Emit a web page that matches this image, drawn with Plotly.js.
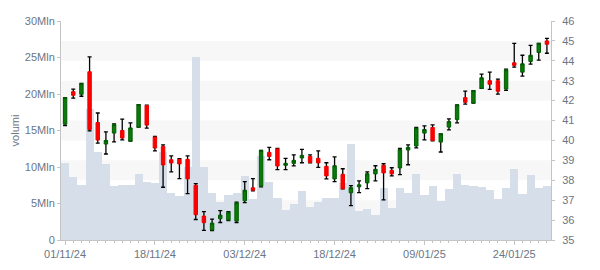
<!DOCTYPE html>
<html>
<head>
<meta charset="utf-8">
<script src="https://cdn.plot.ly/plotly-3.0.1.min.js"></script>
<style>html,body{margin:0;padding:0;background:#fff;}#chart{width:600px;height:270px;}</style>
</head>
<body>
<div id="chart"></div>
<script>
// Trading days (categories)
const dates = [
  '01/11/24','04/11/24','05/11/24','06/11/24','07/11/24','08/11/24','11/11/24','12/11/24','13/11/24','14/11/24',
  '15/11/24','18/11/24','19/11/24','20/11/24','21/11/24','22/11/24','25/11/24','26/11/24','27/11/24','28/11/24',
  '29/11/24','02/12/24','03/12/24','04/12/24','05/12/24','06/12/24','09/12/24','10/12/24','11/12/24','12/12/24',
  '13/12/24','16/12/24','17/12/24','18/12/24','19/12/24','20/12/24','23/12/24','27/12/24','30/12/24','02/01/25',
  '03/01/25','06/01/25','07/01/25','08/01/25','09/01/25','10/01/25','13/01/25','14/01/25','15/01/25','16/01/25',
  '17/01/25','20/01/25','21/01/25','22/01/25','23/01/25','24/01/25','27/01/25','28/01/25','29/01/25','30/01/25'
];
const openP = [
  40.82,42.45,42.32,43.45,40.90,39.82,40.37,40.50,39.97,40.67,
  41.75,40.17,39.70,39.03,39.05,39.05,37.75,36.20,35.50,36.07,
  36.00,35.95,36.97,37.62,37.70,39.40,39.57,38.75,38.85,39.12,
  39.20,39.10,38.70,38.07,38.30,37.37,37.67,37.87,38.32,38.75,
  38.50,38.62,39.52,39.72,40.37,40.65,39.92,40.67,41.05,42.15,
  41.88,42.62,43.00,43.00,42.58,43.90,43.43,43.97,44.42,45.00
];
const highP = [
  42.15,42.58,42.87,44.20,41.38,40.43,40.83,41.07,40.88,41.80,
  41.77,40.20,39.78,39.23,39.08,39.23,37.83,36.43,36.05,36.48,
  36.43,36.90,37.93,38.08,39.50,39.65,39.60,39.10,39.28,39.55,
  39.28,39.48,38.88,39.18,38.58,37.73,37.97,38.42,38.73,38.83,
  38.63,39.60,39.78,40.65,40.73,40.78,40.33,41.08,41.78,42.48,
  42.50,43.33,43.43,43.08,43.58,44.88,44.28,44.78,44.88,45.13
];
const lowP = [
  40.75,42.13,42.22,40.48,39.87,39.32,39.93,40.03,39.97,40.67,
  40.62,39.48,37.65,38.42,38.08,37.33,36.03,35.48,35.47,35.88,
  35.97,35.88,36.88,37.47,37.67,39.03,38.53,38.53,38.72,38.88,
  38.87,38.65,38.07,37.93,37.57,36.73,37.38,37.58,37.97,37.02,
  38.22,38.28,38.78,39.63,40.03,39.98,39.42,40.53,40.88,41.82,
  41.87,42.62,42.57,42.33,42.52,43.68,43.23,43.83,44.03,44.38
];
const closeP = [
  42.15,42.27,42.85,40.55,40.02,40.00,40.80,40.12,40.63,41.80,
  40.77,39.62,38.77,38.87,38.82,38.07,36.27,35.87,35.85,36.25,
  36.40,36.87,37.50,37.50,39.50,39.20,38.72,38.85,39.00,39.25,
  38.90,38.87,38.22,38.73,37.57,37.63,37.77,38.33,38.55,38.37,
  38.32,39.55,39.65,40.62,40.55,40.00,40.33,40.95,41.78,41.92,
  42.50,43.15,42.82,42.47,43.55,43.77,43.85,44.28,44.88,44.83
];
// Volume in millions
const volume = [
  10.6,8.6,7.6,18.0,12.1,10.4,7.4,7.6,7.5,9.1,
  7.9,7.8,12.1,6.5,6.0,10.0,25.1,10.0,6.5,5.2,
  6.1,6.5,8.7,5.6,11.5,7.9,5.7,4.1,4.9,6.7,
  4.5,5.2,5.7,5.7,7.8,13.1,4.0,4.2,3.4,7.1,
  4.4,7.1,6.5,9.0,6.1,7.4,5.3,7.0,9.1,7.5,
  7.4,7.2,6.8,5.6,7.1,9.7,6.3,8.9,7.1,7.4
];
const xTickLabels = ['01/11/24','18/11/24','03/12/24','18/12/24','09/01/25','24/01/25'];
const volTickVals = [0,5,10,15,20,25,30];
const volTickText = ['0','5Mln','10Mln','15Mln','20Mln','25Mln','30Mln'];
const priceBands = [[36,37],[38,39],[40,41],[42,43],[44,45]];

const xIdx = dates.map((d,i)=>i);
const mid = highP.map((h,i)=>(h+lowP[i])/2);
const halfRange = highP.map((h,i)=>(h-lowP[i])/2);
const bodyHigh = openP.map((o,i)=>Math.max(o,closeP[i]));
const bodyLow = openP.map((o,i)=>Math.min(o,closeP[i]));

const tickColor = '#6a7686';
const lineColor = '#c4c4c4';
const font = {family:'"Liberation Sans", Arial, sans-serif', size:11, color:tickColor};

const traces = [
  {type:'bar', x:xIdx, y:volume, xaxis:'x', yaxis:'y',
   marker:{color:'#d6dfe9', line:{width:0}}, hoverinfo:'skip'},
  {type:'scatter', mode:'markers', x:xIdx, y:mid, xaxis:'x', yaxis:'y2',
   marker:{size:1, color:'rgba(0,0,0,0)'},
   error_y:{type:'data', array:halfRange, symmetric:true, color:'#000', thickness:1.3, width:2},
   hoverinfo:'skip'},
  {type:'candlestick', x:xIdx, open:openP, high:bodyHigh, low:bodyLow, close:closeP,
   xaxis:'x', yaxis:'y3',
   increasing:{line:{color:'#005a00', width:1}, fillcolor:'#0a7a0a'},
   decreasing:{line:{color:'#ee0000', width:1}, fillcolor:'#ff0000'},
   hoverinfo:'skip'}
];

const shapes = priceBands.map(b=>({type:'rect', xref:'paper', yref:'y2', x0:0, x1:1, y0:b[0], y1:b[1],
  fillcolor:'#f7f7f7', line:{width:0}, layer:'below'}));

const layout = {
  width:600, height:270,
  margin:{l:61, r:49, t:21, b:30},
  paper_bgcolor:'#fff', plot_bgcolor:'rgba(0,0,0,0)',
  showlegend:false, font:font, bargap:0, boxgap:0.4,
  shapes:shapes,
  xaxis:{range:[-0.5,59.5], showline:true, linecolor:lineColor, linewidth:1,
    ticks:'outside', ticklen:4, tickcolor:lineColor,
    tickmode:'array', tickvals:xTickLabels.map(l=>dates.indexOf(l)), ticktext:xTickLabels,
    showgrid:false, zeroline:false, rangeslider:{visible:false}, fixedrange:true,
    minor:{ticks:'outside', ticklen:2, tickcolor:lineColor, tickmode:'linear', tick0:0, dtick:1, showgrid:false},
    tickfont:font},
  yaxis:{range:[0,30], showline:true, linecolor:lineColor, linewidth:1,
    ticks:'outside', ticklen:3, tickcolor:lineColor,
    tickmode:'array', tickvals:volTickVals, ticktext:volTickText,
    showgrid:false, zeroline:false, fixedrange:true, tickfont:font,
    title:{text:'volumi', font:font, standoff:2}},
  yaxis2:{range:[35,46], overlaying:'y', side:'right', showline:true, linecolor:lineColor, linewidth:1,
    ticks:'outside', ticklen:3, tickcolor:lineColor, dtick:1, tick0:35,
    showgrid:false, zeroline:false, fixedrange:true, tickfont:font, ticklabelstandoff:5},
  yaxis3:{range:[35,46], overlaying:'y', visible:false, fixedrange:true}
};

Plotly.newPlot('chart', traces, layout, {staticPlot:true, displayModeBar:false});
</script>
</body>
</html>
